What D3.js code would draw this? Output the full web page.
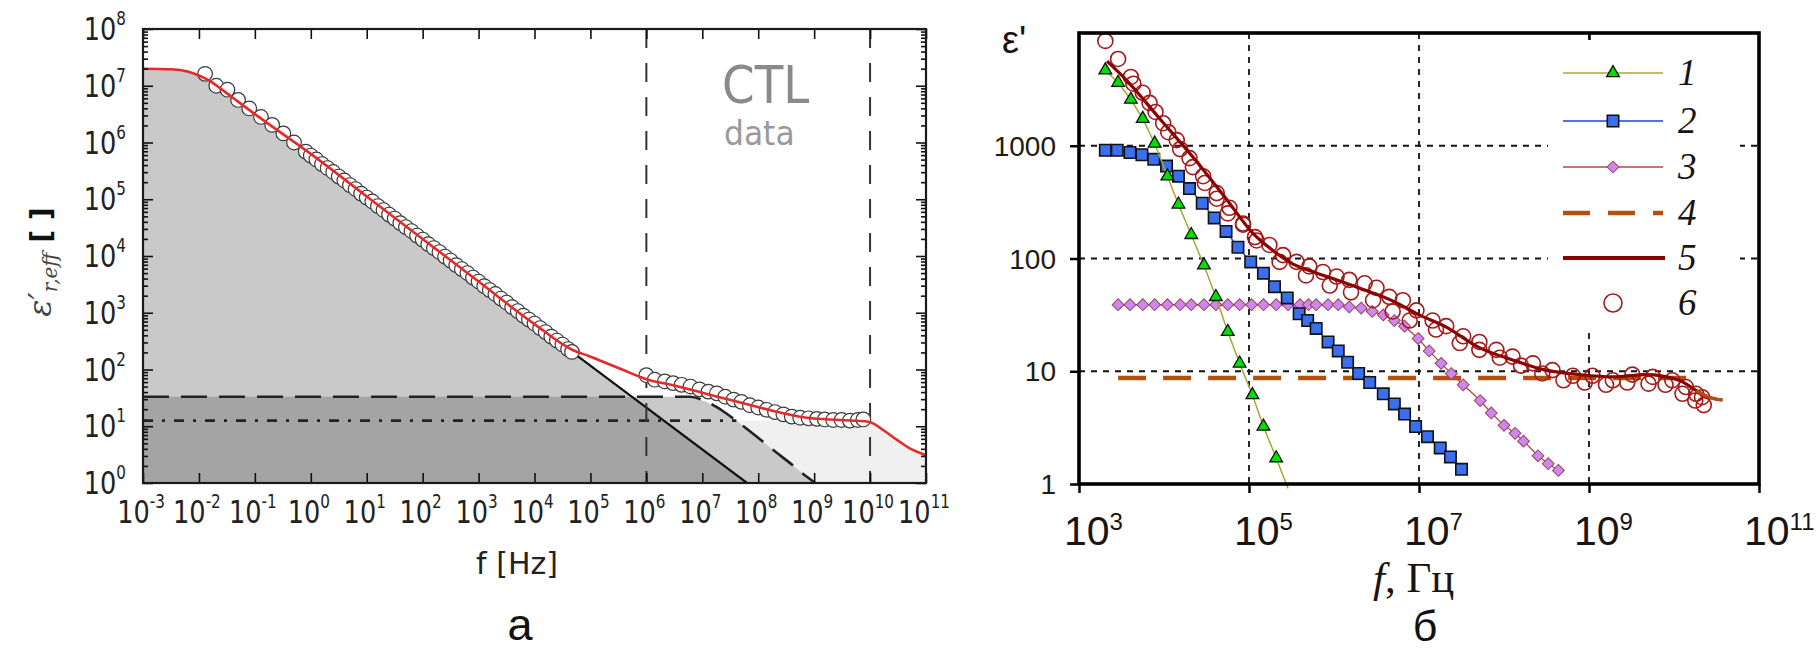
<!DOCTYPE html>
<html><head><meta charset="utf-8">
<script src="https://cdn.jsdelivr.net/npm/d3@7"></script>
<style>body{margin:0;background:#fff}svg{display:block}</style>
</head><body>
<script>
// ===================== DATA (decimal exponents) =====================
// ---- panel a : CTL data
const ctlLowLogF = [-1.89,-1.69,-1.49,-1.30,-1.10,-0.89,-0.69,-0.49,-0.30,-0.09,
  0.0,0.1,0.2,0.3,0.4,0.5,0.6,0.7,0.8,0.9,1.0,1.1,1.2,1.3,1.4,1.5,1.6,1.7,1.8,1.9,
  2.0,2.1,2.2,2.3,2.4,2.5,2.6,2.7,2.8,2.9,3.0,3.1,3.2,3.3,3.4,3.5,3.6,3.7,3.8,3.9,
  4.0,4.1,4.2,4.3,4.4,4.5,4.6,4.67];
const ctlLowLogEps = [7.21,7.00,6.93,6.75,6.60,6.45,6.31,6.16,6.00,5.84,
  5.77,5.70,5.62,5.55,5.48,5.40,5.33,5.25,5.18,5.10,5.03,4.96,4.88,4.81,4.73,4.66,4.58,4.51,4.44,4.36,
  4.29,4.21,4.14,4.07,3.99,3.92,3.84,3.77,3.70,3.62,3.55,3.47,3.40,3.33,3.25,3.18,3.10,3.03,2.95,2.88,
  2.81,2.73,2.66,2.58,2.51,2.44,2.36,2.31];
const ctlHighLogF = [6.0,6.15,6.33,6.48,6.63,6.79,6.95,7.11,7.26,7.41,7.56,7.70,7.85,8.00,8.15,8.30,8.45,8.60,8.75,8.90,9.05,9.19,9.34,9.49,9.64,9.78,9.88];
const ctlHighLogEps = [1.90,1.82,1.79,1.76,1.73,1.70,1.65,1.61,1.58,1.52,1.47,1.43,1.37,1.33,1.29,1.25,1.21,1.17,1.15,1.14,1.13,1.12,1.11,1.11,1.10,1.11,1.12];
// red model curve
const redLogF = [-3.0,-2.5,-2.2,-2.0,-1.8,-1.6,-1.3,-1.0,0.0,1.0,2.0,3.0,4.0,4.69,4.99,5.29,5.59,5.89,6.0,6.5,7.08,7.6,8.27,8.87,9.46,9.97,10.24,10.48,10.71,11.0];
const redLogEps = [7.30,7.29,7.25,7.18,7.08,6.94,6.72,6.50,5.80,5.05,4.30,3.55,2.80,2.34,2.23,2.11,1.99,1.87,1.83,1.72,1.57,1.44,1.27,1.15,1.11,1.08,0.93,0.76,0.61,0.49];
// conductivity contribution (black solid line at its high-frequency end)
const condLogF = [-3.0,-2.5,-2.2,-2.0,-1.8,-1.6,-1.3,-1.0,0.0,1.0,2.0,3.0,4.0,4.67,7.8];
const condLogEps = [7.30,7.29,7.25,7.18,7.08,6.94,6.72,6.50,5.80,5.05,4.30,3.55,2.80,2.31,0.0];
// dashed relaxation contribution
const dashLogF = [-3.0,6.78,7.08,7.38,7.67,7.97,8.27,8.57,8.87,9.02];
const dashLogEps = [1.52,1.52,1.43,1.26,1.05,0.82,0.58,0.35,0.11,0.0];
// dash-dot eps_inf level
const ddLogF = [-3.0,7.61];
const ddLogEps = [1.10,1.10];
// data window limits (vertical dashed lines)
const windowF = [1e6,1e10];
const leftXExp = d3.range(-3,12);
const leftYExp = d3.range(0,9);

// ---- panel б
const s1LogF = [3.31,3.46,3.61,3.75,3.89,4.04,4.17,4.32,4.47,4.61,4.75,4.89,5.04,5.17,5.32];
const s1LogEps = [3.67,3.56,3.41,3.24,3.02,2.73,2.48,2.21,1.94,1.66,1.35,1.07,0.79,0.51,0.23];
const s1TailLogF = [5.32,5.46];
const s1TailLogEps = [0.23,-0.04];
const s2LogF = [3.31,3.45,3.60,3.74,3.88,4.03,4.17,4.30,4.45,4.59,4.73,4.87,5.02,5.17,5.30,5.45,5.59,5.69,5.79,5.93,6.05,6.16,6.29,6.42,6.58,6.71,6.83,6.96,7.10,7.25,7.37,7.50];
const s2LogEps = [2.96,2.96,2.94,2.92,2.88,2.82,2.73,2.62,2.49,2.36,2.24,2.10,1.97,1.87,1.75,1.65,1.51,1.45,1.38,1.26,1.18,1.08,0.98,0.90,0.80,0.71,0.62,0.51,0.42,0.32,0.24,0.13];
const s3LogF = [3.46,3.60,3.75,3.89,4.04,4.19,4.32,4.47,4.61,4.75,4.89,5.03,5.17,5.32,5.46,5.60,5.70,5.79,5.93,6.05,6.18,6.32,6.45,6.58,6.71,6.83,6.99,7.12,7.26,7.38,7.52,7.72,7.85,8.00,8.13,8.23,8.40,8.52,8.64];
const s3LogEps = [1.59,1.59,1.59,1.59,1.59,1.59,1.59,1.59,1.59,1.59,1.59,1.59,1.59,1.59,1.59,1.59,1.59,1.59,1.59,1.59,1.57,1.56,1.53,1.50,1.45,1.40,1.29,1.18,1.07,0.98,0.88,0.74,0.63,0.52,0.45,0.38,0.25,0.18,0.12];
const s4LogF = [3.46,10.3];
const s4LogEps = [0.94,0.94];
const s5LogF = [3.33,3.56,3.95,4.34,4.73,5.05,5.30,5.52,5.80,6.11,6.40,6.70,7.00,7.30,7.71,8.10,8.49,8.89,9.28,9.67,10.06,10.26,10.41,10.57];
const s5LogEps = [3.75,3.58,3.24,2.90,2.53,2.22,2.06,1.95,1.87,1.79,1.71,1.62,1.50,1.40,1.21,1.10,1.01,0.97,0.95,0.97,0.92,0.83,0.77,0.745];
const s6aLogF = [3.31,3.46,3.61,3.75,3.90,4.05,4.19,4.34,4.48,4.62,4.75,4.93,5.07,5.24,5.40,5.56,5.71,5.87,6.03,6.18,6.36,6.50,6.65,6.81,6.97,7.16,7.32,7.52,7.71,7.91,8.10,8.34,8.57,8.81,9.04,9.28,9.51,9.75,9.98,10.14,10.26,10.33];
const s6aLogEps = [3.93,3.77,3.61,3.47,3.30,3.12,2.97,2.81,2.67,2.53,2.40,2.30,2.19,2.12,2.03,1.97,1.93,1.88,1.84,1.81,1.78,1.74,1.66,1.63,1.54,1.45,1.40,1.31,1.26,1.19,1.13,1.07,1.01,0.96,0.96,0.92,0.97,0.95,0.92,0.86,0.80,0.77];
const s6bLogF = [3.64,3.83,3.99,4.15,4.30,4.46,4.62,4.77,4.93,5.09,5.36,5.67,5.95,6.20,6.46,6.69,6.89,7.20,7.48,7.71,7.95,8.20,8.45,8.70,8.95,9.20,9.45,9.70,9.90,10.10,10.25,10.35];
const s6bLogEps = [3.55,3.38,3.20,3.05,2.89,2.73,2.58,2.45,2.31,2.16,1.97,1.85,1.76,1.70,1.63,1.53,1.45,1.37,1.25,1.19,1.12,1.05,0.98,0.92,0.90,0.88,0.90,0.89,0.88,0.80,0.74,0.70];
const rightXExp = [3,5,7,9,11];
const rightYTicks = [1,10,100,1000];
const legendLabels = ["1","2","3","4","5","6"];

// ===================== DRAWING =====================
const P = v => Math.pow(10, v);
const zip = (a, b) => a.map((v, i) => [v, b[i]]);
const svg = d3.select("body").append("svg").attr("width",1818).attr("height",651);
const defs = svg.append("defs");
defs.append("clipPath").attr("id","clipL").append("rect").attr("x",143).attr("y",29).attr("width",783).attr("height",454);
defs.append("clipPath").attr("id","clipR").append("rect").attr("x",1079).attr("y",33).attr("width",680).attr("height",456);

// ---------- panel a ----------
const Lx = d3.scaleLog().domain([1e-3,1e11]).range([143,926]);
const Ly = d3.scaleLog().domain([1,1e8]).range([483,29]);
const gL = svg.append("g").style("font-family","'DejaVu Sans'");
const plotL = gL.append("g").attr("clip-path","url(#clipL)");

function interp(xs, ys, x){
  if (x <= xs[0]) return ys[0];
  if (x >= xs[xs.length-1]) return ys[ys.length-1];
  const i = d3.bisectRight(xs, x) - 1;
  const t = (x - xs[i]) / (xs[i+1] - xs[i]);
  return ys[i] + t * (ys[i+1] - ys[i]);
}
const gridX = d3.range(-3, 11.0001, 0.01);
const areaL = d3.area().x(d => Lx(P(d[0]))).y0(Ly(1)).y1(d => Ly(P(Math.max(0, d[1]))));
const ddLevel = ddLogEps[0];
plotL.append("path").attr("fill","#f0f0f0")
  .attr("d", areaL(gridX.map(x => [x, Math.min(interp(redLogF, redLogEps, x), ddLevel)])));
plotL.append("path").attr("fill","#c9c9c9")
  .attr("d", areaL(gridX.map(x => [x, Math.max(interp(condLogF, condLogEps, x), interp(dashLogF, dashLogEps, x))])));
plotL.append("path").attr("fill","#a4a4a4")
  .attr("d", areaL(gridX.map(x => [x, Math.min(interp(condLogF, condLogEps, x), interp(dashLogF, dashLogEps, x))])));

const lineL = d3.line().x(d => Lx(P(d[0]))).y(d => Ly(P(d[1])));
// dash-dot level
plotL.append("path").attr("d", lineL(zip(ddLogF, ddLogEps))).attr("fill","none")
  .attr("stroke","#222").attr("stroke-width",2.6).attr("stroke-dasharray","10,9,3,9");
// dashed curve
plotL.append("path").attr("d", lineL.curve(d3.curveMonotoneX)(zip(dashLogF, dashLogEps))).attr("fill","none")
  .attr("stroke","#222").attr("stroke-width",2.6).attr("stroke-dasharray","26,12");
lineL.curve(d3.curveLinear);
// conductivity line (visible part)
const condIdx = condLogF.indexOf(4.67);
plotL.append("path").attr("d", lineL(zip(condLogF, condLogEps).slice(condIdx))).attr("fill","none")
  .attr("stroke","#111").attr("stroke-width",2.2);
// vertical dashed window lines
plotL.selectAll("line.win").data(windowF).join("line").attr("class","win")
  .attr("x1", d => Lx(d)).attr("x2", d => Lx(d)).attr("y1", 29).attr("y2", 483)
  .attr("stroke","#333").attr("stroke-width",2).attr("stroke-dasharray","19,15");
// circles
const ctlPts = zip(ctlLowLogF, ctlLowLogEps).concat(zip(ctlHighLogF, ctlHighLogEps));
plotL.selectAll("circle.ctl").data(ctlPts).join("circle").attr("class","ctl")
  .attr("cx", d => Lx(P(d[0]))).attr("cy", d => Ly(P(d[1]))).attr("r",7.3)
  .attr("fill","#fff").attr("stroke","#3a3a3a").attr("stroke-width",1.2);
// red model
plotL.append("path").attr("d", d3.line().curve(d3.curveMonotoneX).x(d => Lx(P(d[0]))).y(d => Ly(P(d[1])))(zip(redLogF, redLogEps)))
  .attr("fill","none").attr("stroke","#e52a2a").attr("stroke-width",2.6);

// axes ticks panel a
const tickStyle = g => { g.select(".domain").remove(); g.selectAll("line").attr("stroke","#111").attr("stroke-width",1.6); };
const decX = leftXExp.map(P), decY = leftYExp.map(P);
const minorY = [];
leftYExp.slice(0,-1).forEach(e => { for (let m = 2; m <= 9; m++) minorY.push(m * P(e)); });
gL.append("g").attr("transform","translate(0,483)").call(d3.axisBottom(Lx).tickValues(decX).tickSize(-10).tickFormat("")).call(tickStyle);
gL.append("g").attr("transform","translate(0,29)").call(d3.axisTop(Lx).tickValues(decX).tickSize(-10).tickFormat("")).call(tickStyle);
gL.append("g").attr("transform","translate(143,0)").call(d3.axisLeft(Ly).tickValues(decY).tickSize(-10).tickFormat("")).call(tickStyle);
gL.append("g").attr("transform","translate(926,0)").call(d3.axisRight(Ly).tickValues(decY).tickSize(-10).tickFormat("")).call(tickStyle);
gL.append("g").attr("transform","translate(143,0)").call(d3.axisLeft(Ly).tickValues(minorY).tickSize(-5).tickFormat("")).call(tickStyle);
gL.append("g").attr("transform","translate(926,0)").call(d3.axisRight(Ly).tickValues(minorY).tickSize(-5).tickFormat("")).call(tickStyle);
gL.append("rect").attr("x",143).attr("y",29).attr("width",783).attr("height",454)
  .attr("fill","none").attr("stroke","#1a1a1a").attr("stroke-width",2.2);

// tick labels panel a
leftXExp.forEach(e => {
  const t = gL.append("text").attr("transform",`translate(${Lx(P(e)) - 2},523) scale(0.8,1)`)
    .attr("text-anchor","middle").attr("font-size",32).attr("fill","#222");
  t.append("tspan").text("10");
  t.append("tspan").attr("font-size",19).attr("dy",-15).text(e);
});
leftYExp.forEach(e => {
  const t = gL.append("text").attr("transform",`translate(126,${Ly(P(e)) + 11}) scale(0.8,1)`)
    .attr("text-anchor","end").attr("font-size",32).attr("fill","#222");
  t.append("tspan").text("10");
  t.append("tspan").attr("font-size",19).attr("dy",-15).text(e);
});
gL.append("text").attr("x",517).attr("y",574).attr("text-anchor","middle").attr("font-size",30).attr("fill","#222").text("f [Hz]");
const yl = gL.append("text").attr("transform","translate(51,262) rotate(-90)").attr("text-anchor","middle");
yl.append("tspan").attr("font-family","'DejaVu Serif'").attr("font-style","italic").attr("font-size",32).attr("fill","#444").text("ε′");
yl.append("tspan").attr("font-family","'DejaVu Serif'").attr("font-style","italic").attr("font-size",20).attr("fill","#444").attr("dy",6).text("r,eff");
yl.append("tspan").attr("font-weight","bold").attr("font-size",28).attr("fill","#111").attr("dy",-6).text(" [ ]");
gL.append("text").attr("transform","translate(722,103) scale(0.9,1)").attr("font-size",52).attr("fill","#8a8a8a").text("CTL");
gL.append("text").attr("transform","translate(724,145) scale(0.95,1)").attr("font-size",33).attr("fill","#9a9a9a").text("data");
svg.append("text").attr("x",520).attr("y",640).attr("text-anchor","middle").attr("font-family","'Liberation Sans'").attr("font-size",45).attr("fill","#111").text("а");

// ---------- panel б ----------
const Rx = d3.scaleLog().domain([1e3,1e11]).range([1079,1759]);
const Ry = d3.scaleLog().domain([1,1e4]).range([484,33]);
const gR = svg.append("g").style("font-family","'Liberation Sans'");
// grid
gR.selectAll("line.vg").data([1e5,1e7,1e9]).join("line").attr("class","vg")
  .attr("x1", d => Rx(d)).attr("x2", d => Rx(d)).attr("y1",33).attr("y2",484)
  .attr("stroke","#111").attr("stroke-width",1.8).attr("stroke-dasharray","6,6");
gR.selectAll("line.hg").data([10,100,1000]).join("line").attr("class","hg")
  .attr("x1",1079).attr("x2",1759).attr("y1", d => Ry(d)).attr("y2", d => Ry(d))
  .attr("stroke","#111").attr("stroke-width",1.8).attr("stroke-dasharray","6,6");
// legend background
gR.append("rect").attr("x",1548).attr("y",40).attr("width",192).attr("height",290).attr("fill","#fff");

const plotR = gR.append("g").attr("clip-path","url(#clipR)");
const lineR = d3.line().x(d => Rx(P(d[0]))).y(d => Ry(P(d[1])));
const lineRs = d3.line().curve(d3.curveMonotoneX).x(d => Rx(P(d[0]))).y(d => Ry(P(d[1])));
const symTri = d3.symbol(d3.symbolTriangle, 70)();
const symSq = d3.symbol(d3.symbolSquare, 130)();
const symDia = d3.symbol(d3.symbolSquare, 70)();

// 4: dashed level
plotR.append("path").attr("d", lineR(zip(s4LogF, s4LogEps))).attr("fill","none")
  .attr("stroke","#b4500f").attr("stroke-width",4.5).attr("stroke-dasharray","28,17");
// 3: diamonds
plotR.append("path").attr("d", lineR(zip(s3LogF, s3LogEps))).attr("fill","none").attr("stroke","#b04848").attr("stroke-width",1.3);
plotR.selectAll("path.s3").data(zip(s3LogF, s3LogEps)).join("path").attr("class","s3").attr("d", symDia)
  .attr("transform", d => `translate(${Rx(P(d[0]))},${Ry(P(d[1]))}) rotate(45)`)
  .attr("fill","#cc88ee").attr("stroke","#a0405a").attr("stroke-width",1);
// 2: squares
plotR.append("path").attr("d", lineR(zip(s2LogF, s2LogEps))).attr("fill","none").attr("stroke","#1a3cff").attr("stroke-width",1.3);
plotR.selectAll("path.s2").data(zip(s2LogF, s2LogEps)).join("path").attr("class","s2").attr("d", symSq)
  .attr("transform", d => `translate(${Rx(P(d[0]))},${Ry(P(d[1]))})`)
  .attr("fill","#3a6ff0").attr("stroke","#111").attr("stroke-width",1.6);
// 1: triangles
plotR.append("path").attr("d", lineR(zip(s1LogF, s1LogEps).concat(zip(s1TailLogF, s1TailLogEps).slice(1)))).attr("fill","none").attr("stroke","#a8a838").attr("stroke-width",1.5);
plotR.selectAll("path.s1").data(zip(s1LogF, s1LogEps)).join("path").attr("class","s1").attr("d", symTri)
  .attr("transform", d => `translate(${Rx(P(d[0]))},${Ry(P(d[1]))})`)
  .attr("fill","#00e000").attr("stroke","#111").attr("stroke-width",1.3);
// 6: circles
plotR.selectAll("circle.s6").data(zip(s6aLogF, s6aLogEps).concat(zip(s6bLogF, s6bLogEps))).join("circle").attr("class","s6")
  .attr("cx", d => Rx(P(d[0]))).attr("cy", d => Ry(P(d[1]))).attr("r",7.5)
  .attr("fill","none").attr("stroke","#a51a1a").attr("stroke-width",1.6);
// 5: line
plotR.append("path").attr("d", lineRs(zip(s5LogF, s5LogEps))).attr("fill","none").attr("stroke","#8b0000").attr("stroke-width",3.2);
plotR.append("path").attr("d", lineRs(zip(s5LogF, s5LogEps).filter(d => d[0] >= 10.26))).attr("fill","none").attr("stroke","#b4500f").attr("stroke-width",3.2);

// frame + ticks
const tickR = g => { g.select(".domain").remove(); g.selectAll("line").attr("stroke","#000").attr("stroke-width",2.5); };
gR.append("g").attr("transform","translate(0,484)").call(d3.axisBottom(Rx).tickValues(rightXExp.map(P)).tickSize(9).tickFormat("")).call(tickR);
gR.append("g").attr("transform","translate(1079,0)").call(d3.axisLeft(Ry).tickValues(rightYTicks).tickSize(9).tickFormat("")).call(tickR);
gR.append("g").attr("transform","translate(0,33)").call(d3.axisTop(Rx).tickValues([1e9]).tickSize(-7).tickFormat("")).call(tickR);
gR.append("rect").attr("x",1079).attr("y",33).attr("width",680).attr("height",451)
  .attr("fill","none").attr("stroke","#000").attr("stroke-width",3.6);

// tick labels
rightYTicks.forEach(v => {
  gR.append("text").attr("x",1056).attr("y", Ry(v) + 10).attr("text-anchor","end")
    .attr("font-size",28).attr("fill","#221a10").text(v);
});
rightXExp.forEach(e => {
  const t = gR.append("text").attr("x", Rx(P(e)) - 15).attr("y",545).attr("font-size",41).attr("fill","#1a1410");
  t.append("tspan").text("10");
  t.append("tspan").attr("font-size",24).attr("dy",-15).text(e);
});
gR.append("text").attr("x",1002).attr("y",53).attr("font-size",38).attr("fill","#1a1410").text("ε'");
const xl = gR.append("text").attr("x",1373).attr("y",592).attr("font-family","'Liberation Serif'").attr("font-size",43).attr("fill","#1a1410");
xl.append("tspan").attr("font-style","italic").text("f");
xl.append("tspan").text(", Гц");
svg.append("text").attr("x",1425).attr("y",641).attr("text-anchor","middle").attr("font-family","'Liberation Sans'").attr("font-size",43).attr("fill","#111").text("б");

// legend
const legRows = [73,121,167,213,258,303];
const lg = gR.append("g");
const lx1 = 1563, lx2 = 1663, lmx = 1613;
lg.append("line").attr("x1",lx1).attr("x2",lx2).attr("y1",legRows[0]).attr("y2",legRows[0]).attr("stroke","#a8a838").attr("stroke-width",1.5);
lg.append("path").attr("d",symTri).attr("transform",`translate(${lmx},${legRows[0]})`).attr("fill","#00e000").attr("stroke","#111").attr("stroke-width",1.3);
lg.append("line").attr("x1",lx1).attr("x2",lx2).attr("y1",legRows[1]).attr("y2",legRows[1]).attr("stroke","#1a3cff").attr("stroke-width",1.5);
lg.append("path").attr("d",symSq).attr("transform",`translate(${lmx},${legRows[1]})`).attr("fill","#3a6ff0").attr("stroke","#111").attr("stroke-width",1.6);
lg.append("line").attr("x1",lx1).attr("x2",lx2).attr("y1",legRows[2]).attr("y2",legRows[2]).attr("stroke","#b04848").attr("stroke-width",1.5);
lg.append("path").attr("d",symDia).attr("transform",`translate(${lmx},${legRows[2]}) rotate(45)`).attr("fill","#cc88ee").attr("stroke","#a0405a").attr("stroke-width",1);
lg.append("line").attr("x1",lx1).attr("x2",lx2).attr("y1",legRows[3]).attr("y2",legRows[3]).attr("stroke","#b4500f").attr("stroke-width",4.5).attr("stroke-dasharray","27,18");
lg.append("line").attr("x1",lx1).attr("x2",lx2 + 2).attr("y1",legRows[4]).attr("y2",legRows[4]).attr("stroke","#8b0000").attr("stroke-width",4);
lg.append("circle").attr("cx",lmx).attr("cy",legRows[5]).attr("r",9).attr("fill","none").attr("stroke","#a51a1a").attr("stroke-width",1.6);
legendLabels.forEach((s, i) => {
  lg.append("text").attr("x",1678).attr("y",legRows[i] + 12).attr("font-family","'Liberation Serif'")
    .attr("font-style","italic").attr("font-size",37).attr("fill","#1a1410").text(s);
});
</script>
</body></html>
